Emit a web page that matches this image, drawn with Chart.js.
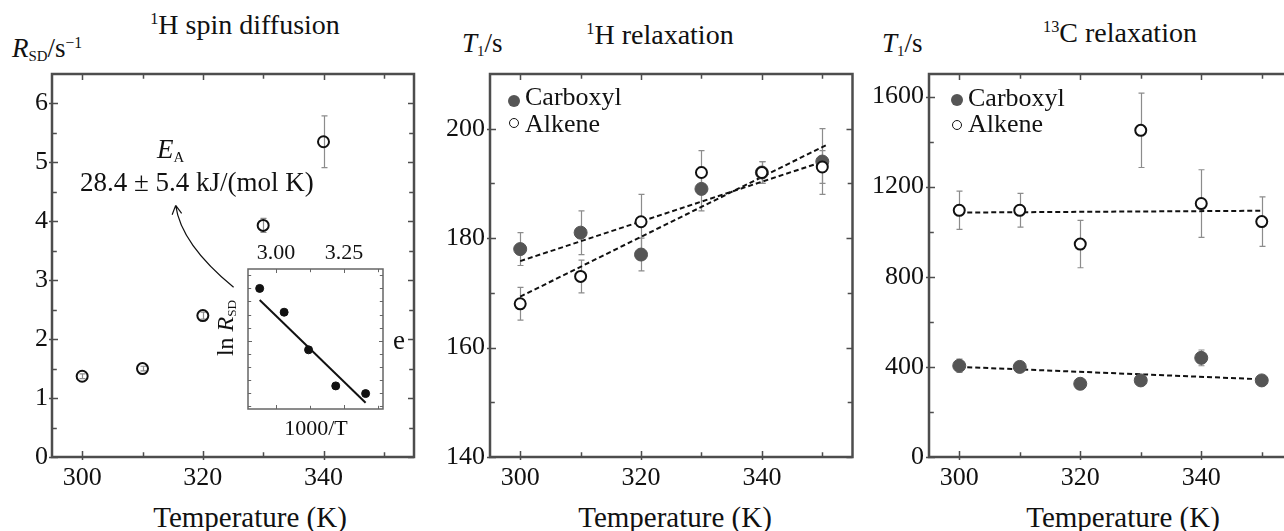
<!DOCTYPE html>
<html>
<head>
<script src="https://cdn.jsdelivr.net/npm/chart.js@4"></script>
<style>
  html, body { margin: 0; padding: 0; overflow: hidden; background: #fff; }
  body { width: 1284px; height: 531px; position: relative; font-family: "Liberation Serif", serif; color: #111; }
  canvas { position: absolute; }
  .t { position: absolute; white-space: nowrap; line-height: 1; font-size: 27px; }
  .c { transform: translateX(-50%); }
  .t sub { font-size: 0.55em; vertical-align: -0.25em; line-height: 0; }
  .t sup { font-size: 0.58em; vertical-align: 0.6em; line-height: 0; }
  .dot { position: absolute; border-radius: 50%; box-sizing: border-box; }
</style>
</head>
<body>
  <canvas id="c1" width="430" height="430" style="left:0px;top:64px"></canvas>
  <canvas id="c1i" width="145" height="170" style="left:243px;top:244px"></canvas>
  <canvas id="c2" width="430" height="430" style="left:430px;top:64px"></canvas>
  <canvas id="c3" width="450" height="430" style="left:860px;top:64px"></canvas>

  <div class="t c" style="left:245px;top:11px;font-size:28px"><sup>1</sup>H spin diffusion</div>
  <div class="t c" style="left:660px;top:21px;font-size:28px"><sup>1</sup>H relaxation</div>
  <div class="t c" style="left:1120px;top:19px;font-size:28px"><sup>13</sup>C relaxation</div>

  <div class="t" style="left:12px;top:35px"><i>R</i><sub>SD</sub>/s<sup>−1</sup></div>
  <div class="t" style="left:462px;top:30px"><i>T</i><sub>1</sub>/s</div>
  <div class="t" style="left:882px;top:30px"><i>T</i><sub>1</sub>/s</div>

  <div class="t c" style="left:250px;top:503px;font-size:29px">Temperature (K)</div>
  <div class="t c" style="left:675px;top:503px;font-size:29px">Temperature (K)</div>
  <div class="t c" style="left:1123px;top:503px;font-size:29px">Temperature (K)</div>

  <div class="t" style="left:157px;top:136px"><i>E</i><sub>A</sub></div>
  <div class="t" style="left:80px;top:169px">28.4 ± 5.4 kJ/(mol K)</div>
  <div class="t" style="left:393px;top:327px">e</div>
  <div class="t c" style="left:316px;top:417px;font-size:22px">1000/T</div>
  <div class="t" style="left:225px;top:328px;font-size:24px;transform:translate(-50%,-50%) rotate(-90deg)">ln <i>R</i><sub>SD</sub></div>

  <div class="dot" style="left:508px;top:95px;width:12px;height:12px;background:#555"></div>
  <div class="t" style="left:525px;top:84px;font-size:26px">Carboxyl</div>
  <div class="dot" style="left:509px;top:118px;width:10px;height:10px;border:1.6px solid #111"></div>
  <div class="t" style="left:525px;top:111px;font-size:26px">Alkene</div>

  <div class="dot" style="left:951px;top:94px;width:12px;height:12px;background:#555"></div>
  <div class="t" style="left:968px;top:85px;font-size:26px">Carboxyl</div>
  <div class="dot" style="left:952px;top:120px;width:10px;height:10px;border:1.6px solid #111"></div>
  <div class="t" style="left:968px;top:111px;font-size:26px">Alkene</div>

<script>
// ---- data ----
const temps = [300, 310, 320, 330, 340, 350];
const xTicks = [300, 310, 320, 330, 340, 350];
const xLabels = [300, 320, 340];

// 1H spin diffusion
const sdTemps = [300, 310, 320, 330, 340];
const sdRate = [1.37, 1.50, 2.40, 3.93, 5.35];
const sdErr = [0.04, 0.04, 0.06, 0.12, 0.44];
const sdYTicks = [0, 0.5, 1, 1.5, 2, 2.5, 3, 3.5, 4, 4.5, 5, 5.5, 6];
const sdYLabels = [0, 1, 2, 3, 4, 5, 6];

// inset: ln R_SD vs 1000/T
const invT = [2.94, 3.03, 3.12, 3.22, 3.33];
const lnRate = [1.68, 1.37, 0.88, 0.41, 0.31];
const invTFit = [2.94, 3.33];
const lnRateFit = [1.53, 0.19];
const invTTicks = [3.0, 3.125, 3.25, 3.375];
const invTLabels = [3.0, 3.25];
const lnTicks = [0.15, 0.32, 0.49, 0.66, 0.83, 1.0, 1.17, 1.34, 1.51, 1.68, 1.85];

// 1H relaxation
const hCarboxyl = [178, 181, 177, 189, 192, 194];
const hCarboxylErr = [3, 4, 3, 4, 2, 6];
const hAlkene = [168, 173, 183, 192, 192, 193];
const hAlkeneErr = [3, 3, 5, 4, 2, 3];
const hFitT = [300, 351];
const hCarboxylFit = [175.8, 194.3];
const hAlkeneFit = [169.3, 197.2];
const hYTicks = [140, 150, 160, 170, 180, 190, 200];
const hYLabels = [140, 160, 180, 200];

// 13C relaxation
const cCarboxyl = [405, 400, 325, 340, 440, 340];
const cCarboxylErr = [30, 15, 20, 15, 35, 15];
const cAlkene = [1095, 1095, 945, 1450, 1125, 1045];
const cAlkeneErr = [85, 75, 105, 165, 150, 110];
const cFitT = [300, 350];
const cCarboxylFit = [400, 345];
const cAlkeneFit = [1085, 1093];
const cYTicks = [0, 200, 400, 600, 800, 1000, 1200, 1400, 1600];
const cYLabels = [0, 400, 800, 1200, 1600];

const pts = (xs, ys) => xs.map((x, i) => ({ x, y: ys[i] }));
const FONT = { family: '"Liberation Serif", serif', size: 26 };

// box, inward ticks, error bars, arrow
const frame = {
  id: 'frame',
  beforeDatasetsDraw(chart, args, o) {
    const { ctx, scales: { x, y } } = chart;
    ctx.save();
    ctx.strokeStyle = '#8c8c8c';
    ctx.lineWidth = 1.2;
    (o.errors || []).forEach(([xs, ys, es]) => {
      xs.forEach((xv, i) => {
        const px = Math.round(x.getPixelForValue(xv)) + 0.5;
        const t = y.getPixelForValue(ys[i] + es[i]);
        const b = y.getPixelForValue(ys[i] - es[i]);
        ctx.beginPath();
        ctx.moveTo(px, t); ctx.lineTo(px, b);
        ctx.moveTo(px - 3, t); ctx.lineTo(px + 3, t);
        ctx.moveTo(px - 3, b); ctx.lineTo(px + 3, b);
        ctx.stroke();
      });
    });
    ctx.restore();
  },
  afterDraw(chart, args, o) {
    const { ctx, chartArea: a, scales: { x, y } } = chart;
    const L = o.len;
    ctx.save();
    ctx.strokeStyle = o.color;
    ctx.lineWidth = o.tickWidth;
    ctx.beginPath();
    o.xt.forEach(v => {
      const px = Math.round(x.getPixelForValue(v)) + 0.5;
      const len = o.xMajor.includes(v) ? L : L * 0.8;
      ctx.moveTo(px, a.bottom + (o.xMajor.includes(v) ? o.out : 0)); ctx.lineTo(px, a.bottom - len);
      ctx.moveTo(px, a.top); ctx.lineTo(px, a.top + len);
    });
    o.yt.forEach(v => {
      const py = Math.round(y.getPixelForValue(v)) + 0.5;
      const major = o.yMajor.includes(v);
      const len = major ? L : L * 0.8;
      ctx.moveTo(a.left - (major ? o.out : 0), py); ctx.lineTo(a.left + len, py);
      ctx.moveTo(a.right, py); ctx.lineTo(a.right - len, py);
    });
    ctx.stroke();
    ctx.lineWidth = o.boxWidth;
    ctx.strokeRect(a.left, a.top, a.right - a.left, a.bottom - a.top);
    if (o.arrow) {
      const [p0, p1, p2] = o.arrow.map(([vx, vy]) => [x.getPixelForValue(vx), y.getPixelForValue(vy)]);
      ctx.strokeStyle = '#111';
      ctx.lineWidth = 1.2;
      ctx.beginPath();
      ctx.moveTo(p0[0], p0[1]);
      ctx.quadraticCurveTo(p1[0], p1[1], p2[0], p2[1]);
      const ang = Math.atan2(p2[1] - p1[1], p2[0] - p1[0]);
      [0.5, -0.5].forEach(d => {
        ctx.moveTo(p2[0], p2[1]);
        ctx.lineTo(p2[0] - 10 * Math.cos(ang + d), p2[1] - 10 * Math.sin(ang + d));
      });
      ctx.stroke();
    }
    ctx.restore();
  }
};

function panel(id, cfg) {
  return new Chart(document.getElementById(id), {
    type: 'scatter',
    data: { datasets: cfg.datasets },
    plugins: [frame],
    options: {
      responsive: false,
      animation: false,
      events: [],
      layout: { padding: cfg.pad },
      plugins: {
        legend: { display: false },
        tooltip: { enabled: false },
        frame: Object.assign({ len: 6, out: 3, color: '#4d4d4d', tickWidth: 1.5, boxWidth: 2.5 }, cfg.frame)
      },
      scales: {
        x: {
          type: 'linear', position: cfg.xPos || 'bottom',
          min: cfg.xMin, max: cfg.xMax,
          display: true,
          afterBuildTicks: s => { s.ticks = cfg.frame.xt.map(v => ({ value: v })); },
          afterFit: s => { s.height = cfg.xH; s.paddingLeft = 0; s.paddingRight = 0; },
          grid: { display: false, drawTicks: false },
          border: { display: false },
          ticks: {
            padding: cfg.xPad, color: '#111', font: cfg.xFont || FONT, maxRotation: 0, autoSkip: false,
            callback: v => cfg.frame.xMajor.includes(v) ? cfg.xFmt(v) : ''
          }
        },
        y: {
          type: 'linear', min: cfg.yMin, max: cfg.yMax,
          display: cfg.yShow !== false,
          afterBuildTicks: s => { s.ticks = cfg.frame.yt.map(v => ({ value: v })); },
          afterFit: s => { s.width = cfg.yW; s.paddingTop = 0; s.paddingBottom = 0; },
          grid: { display: false, drawTicks: false },
          border: { display: false },
          ticks: {
            padding: cfg.yPad, color: '#111', font: FONT, autoSkip: false,
            callback: v => cfg.frame.yMajor.includes(v) ? String(v) : ''
          }
        }
      }
    }
  });
}

const fitLine = (xs, ys) => ({
  data: pts(xs, ys), showLine: true, pointRadius: 0, borderColor: '#111',
  borderWidth: 2, borderDash: [5, 3], order: 3
});
const filled = (xs, ys) => ({
  data: pts(xs, ys), pointRadius: 6.5, pointBackgroundColor: '#555',
  pointBorderColor: '#555', pointBorderWidth: 1, order: 2
});
const open = (xs, ys, bg) => ({
  data: pts(xs, ys), pointRadius: 5.5, pointBackgroundColor: bg,
  pointBorderColor: '#111', pointBorderWidth: 2, order: 1
});

panel('c1', {
  pad: { top: 10, right: 16, left: 0, bottom: 0 },
  xMin: 295, xMax: 355, yMin: 0, yMax: 6.5, xH: 37, yW: 52, xPad: 6, yPad: 4,
  xFmt: v => String(v),
  datasets: [open(sdTemps, sdRate, 'rgba(0,0,0,0)')],
  frame: {
    xt: xTicks, xMajor: xLabels, yt: sdYTicks, yMajor: sdYLabels,
    errors: [[sdTemps, sdRate, sdErr]],
    arrow: [[325.1, 2.88], [316.4, 3.61], [315.5, 4.27]]
  }
});

panel('c1i', {
  pad: { top: 0, right: 0, left: 0, bottom: 1 },
  xPos: 'top', xMin: 2.897, xMax: 3.394, yMin: 0.109, yMax: 1.933, xH: 25, yW: 0, xPad: 3, yPad: 0,
  yShow: false, xFont: { family: '"Liberation Serif", serif', size: 22 },
  xFmt: v => v.toFixed(2),
  datasets: [
    { data: pts(invTFit, lnRateFit), showLine: true, pointRadius: 0, borderColor: '#111', borderWidth: 2, order: 2 },
    { data: pts(invT, lnRate), pointRadius: 4, pointBackgroundColor: '#111', pointBorderColor: '#111', order: 1 }
  ],
  frame: { xt: invTTicks, xMajor: invTLabels, yt: lnTicks, yMajor: [1.0], len: 4, out: 0, color: '#666', tickWidth: 1, boxWidth: 1.5 }
});

panel('c2', {
  pad: { top: 10, right: 7, left: 0, bottom: 0 },
  xMin: 295, xMax: 355, yMin: 140, yMax: 210, xH: 37, yW: 60, xPad: 6, yPad: 5,
  xFmt: v => String(v),
  datasets: [
    fitLine(hFitT, hCarboxylFit),
    fitLine(hFitT, hAlkeneFit),
    filled(temps, hCarboxyl),
    open(temps, hAlkene, '#fff')
  ],
  frame: {
    xt: xTicks, xMajor: xLabels, yt: hYTicks, yMajor: hYLabels,
    errors: [[temps, hCarboxyl, hCarboxylErr], [temps, hAlkene, hAlkeneErr]]
  }
});

panel('c3', {
  pad: { top: 10, right: 18, left: 0, bottom: 0 },
  xMin: 295, xMax: 355, yMin: 0, yMax: 1700, xH: 37, yW: 69, xPad: 6, yPad: 5,
  xFmt: v => String(v),
  datasets: [
    fitLine(cFitT, cCarboxylFit),
    fitLine(cFitT, cAlkeneFit),
    filled(temps, cCarboxyl),
    open(temps, cAlkene, '#fff')
  ],
  frame: {
    xt: xTicks, xMajor: xLabels, yt: cYTicks, yMajor: cYLabels,
    errors: [[temps, cCarboxyl, cCarboxylErr], [temps, cAlkene, cAlkeneErr]]
  }
});
</script>
</body>
</html>
